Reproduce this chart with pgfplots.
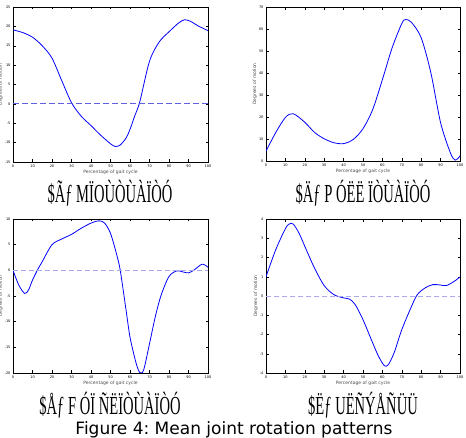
\documentclass[border=0pt]{standalone}
\usepackage{fontspec}
\setmainfont{DejaVu Sans}
\newfontfamily\capfont{Liberation Serif}
\usepackage{pgfplots}
\pgfplotsset{compat=1.18}
\definecolor{mplblue}{RGB}{0,0,255}
\definecolor{dashdark}{RGB}{95,95,225}
\definecolor{dashlight}{RGB}{170,170,235}
\pgfplotsset{
  gaitax/.style={
    scale only axis,
    anchor=south west,
    xmin=0, xmax=100,
    xtick={0,10,...,100},
    tick align=inside,
    major tick length=2.5pt,
    tick style={black, line width=0.4pt},
    axis line style={black, line width=0.8pt},
    tick label style={font=\fontsize{3.5}{4}\selectfont},
    /pgf/number format/assume math mode=true,
    xticklabel shift=-1pt,
    yticklabel shift=-1pt,
    xlabel={Percentage of gait cycle},
    ylabel={Degrees of motion},
    label style={font=\fontsize{4.5}{5}\selectfont, text=black!70},
    xlabel style={yshift=4pt},
    ylabel style={yshift=-5pt},
    every axis plot/.append style={line width=0.8pt},
  },
}
\newcommand{\gcap}[1]{\capfont\fontsize{26}{28}\selectfont\scalebox{0.56}[1]{#1}}
\frenchspacing
\begin{document}
\begin{tikzpicture}[x=1pt,y=1pt]
\useasboundingbox (0,0) rectangle (466,438);
% plot 1
\begin{axis}[gaitax, at={(13pt,276pt)}, width=195pt, height=155pt,
  ymin=-15, ymax=25, ytick={-15,-10,...,25}]
\addplot[mplblue, smooth] coordinates {
(0,19.1)(5,18.4)(10,17.2)(15,15.0)(20,11.8)(25,6.0)(30,0.3)(35,-3.2)(40,-5.6)(45,-8.1)(50,-10.3)(52.5,-11)(55,-10.6)(58,-8.8)(60,-6.6)(62.5,-3.0)(65,0.5)(70,11.0)(75,16)(80,18.6)(85,20.9)(88,21.7)(91,21.3)(95,20.1)(100,18.9)};
\addplot[dashdark, line width=1.2pt, dash pattern=on 6pt off 3pt] coordinates {(0,0)(100,0)};
\end{axis}
% plot 2
\begin{axis}[gaitax, at={(266pt,277pt)}, width=194pt, height=154pt,
  ymin=0, ymax=70, ytick={0,10,...,70}]
\addplot[mplblue, smooth] coordinates {
(0,4.5)(5,12.9)(10,19.8)(14,21.5)(20,17.6)(25,13.0)(30,10.1)(35,8.3)(40,7.9)(45,9.8)(50,14.7)(55,23.4)(60,37)(65,51.4)(70,62.5)(72,64.3)(75,63)(80,56)(85,40)(90,17.4)(95,3.8)(97.5,0.4)(100,2.3)};
\end{axis}
% plot 3
\begin{axis}[gaitax, at={(13pt,65pt)}, width=195pt, height=154pt,
  ymin=-20, ymax=10, ytick={-20,-15,...,10}]
\addplot[mplblue, smooth] coordinates {
(0,0)(3,-2.9)(6,-4.5)(8,-3.8)(10,-1.9)(13,0.4)(15,1.7)(20,5)(25,6.1)(30,7)(35,8.2)(40,9.2)(44,9.65)(47,9.2)(50,7.2)(53,3.3)(55,0)(58,-7.8)(60,-13)(63,-17.9)(65,-19.9)(67,-19.4)(70,-14.3)(73,-9)(76,-4.8)(80,-1.2)(84,-0.1)(87,-0.3)(90,-0.5)(93,0.1)(97,1.2)(100,0.6)};
\addplot[dashlight, line width=0.6pt, dash pattern=on 5pt off 3pt] coordinates {(0,0)(100,0)};
\end{axis}
% plot 4
\begin{axis}[gaitax, at={(266pt,65pt)}, width=194pt, height=154pt,
  ymin=-4, ymax=4, ytick={-4,-3,...,4}]
\addplot[mplblue, smooth] coordinates {
(0,1.0)(5,2.4)(10,3.5)(12,3.74)(14,3.74)(17,3.27)(20,2.58)(25,1.45)(30,0.54)(35,0.07)(40,-0.1)(43,-0.16)(46,-0.45)(50,-1.23)(55,-2.44)(58,-3.13)(61,-3.62)(63,-3.57)(66,-2.96)(70,-1.75)(75,-0.54)(78,0.07)(82,0.42)(86,0.59)(90,0.57)(93,0.54)(97,0.76)(100,0.99)};
\addplot[dashlight, line width=0.6pt, dash pattern=on 5pt off 3pt] coordinates {(0,0)(100,0)};
\end{axis}
% sub-captions (garbled in the reference)
\node at (110,245) {\gcap{\$Ãƒ MÏOÙÒÙÀÏÒÓ}};
\node at (363,245) {\gcap{\$Äƒ P ÓËË ÏÒÙÀÏÒÓ}};
\node at (110,33) {\gcap{\$Åƒ F ÓÏ ÑËÏÒÙÀÏÒÓ}};
\node at (363,33) {\gcap{\$Ëƒ UËÑÝÅÑÜÜ}};
\node at (234,8) {\fontsize{17}{19}\selectfont Figure 4: Mean joint rotation patterns};
\end{tikzpicture}
\end{document}
